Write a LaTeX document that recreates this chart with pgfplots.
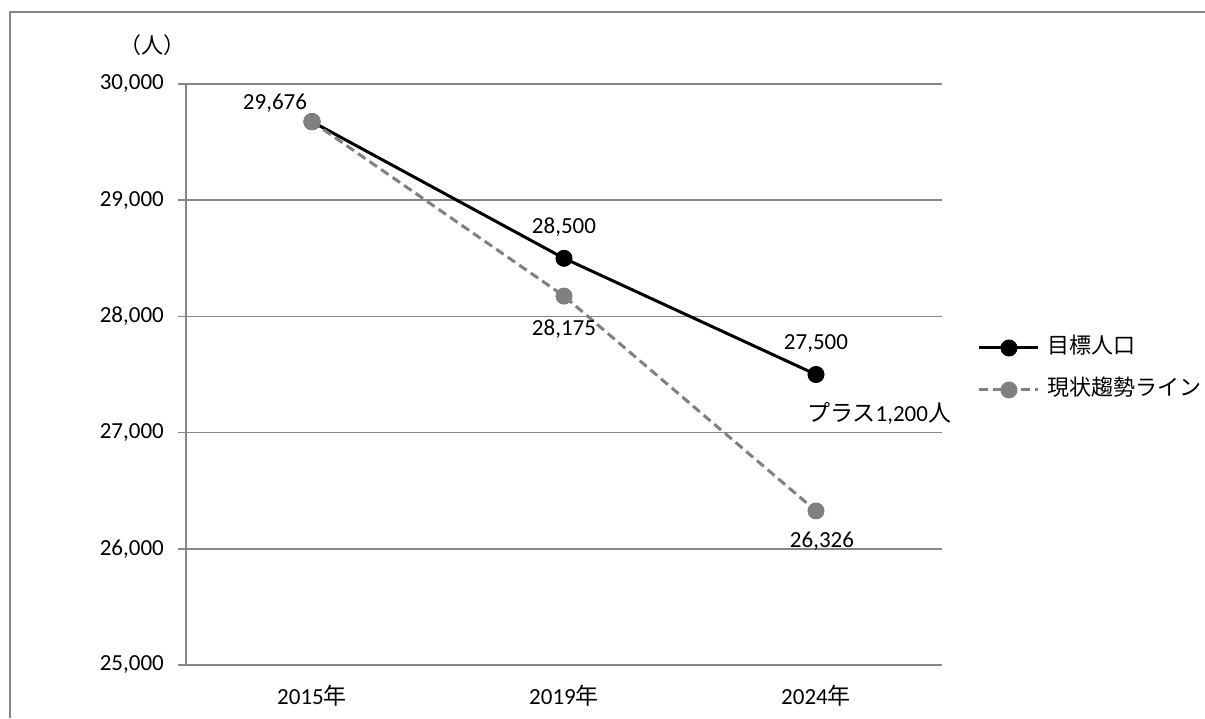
\documentclass[border=0pt]{standalone}
\usepackage{fontspec}
\usepackage{pgfplots}
\pgfplotsset{compat=1.18}
\setmainfont{Carlito}
\newfontfamily\jp{Noto Sans CJK JP}
\definecolor{gridgray}{HTML}{868686}
\definecolor{trendgray}{HTML}{808080}
\newcommand{\fs}{\fontsize{23}{27}\selectfont}
\newcommand{\jfs}{\jp\fontsize{22}{26}\selectfont}

\begin{document}
\begin{tikzpicture}[font=\fs]
\useasboundingbox (0pt,0pt) rectangle (1205pt,718pt);
% outer frame
\draw[gridgray, line width=1.5pt] (10pt,0pt) -- (10pt,706pt) -- (1205pt,706pt);
\node[font=\jfs] at (152pt,673pt) {（人）};
\begin{axis}[
  at={(186pt,53pt)}, anchor=south west,
  scale only axis, width=756pt, height=581pt,
  xmin=0, xmax=3, ymin=25000, ymax=30000,
  ytick={25000,26000,27000,28000,29000,30000},
  scaled y ticks=false,
  xtick={0.5,1.5,2.5},
  xticklabels={2015{\jp 年},2019{\jp 年},2024{\jp 年}},
  x tick style={draw=none},
  extra x ticks={0,1,2,3}, extra x tick labels={},
  extra x tick style={grid=none, major tick length=10pt, tick style={draw=gridgray, line width=1.5pt}},
  y tick style={draw=gridgray, line width=1.5pt},
  major tick length=8pt, tick align=outside,
  ymajorgrids, grid style={gridgray, line width=1.5pt},
  axis x line*=bottom, axis y line*=left,
  x axis line style={draw=gridgray, line width=2.5pt},
  y axis line style={draw=gridgray, line width=1.5pt},
  clip=false,
  /pgf/number format/.cd, fixed, precision=0, 1000 sep={,}, assume math mode=true,
  /pgfplots/.cd,
  yticklabel style={anchor=east, inner sep=0pt, xshift=-14pt},
  xticklabel style={anchor=center, inner sep=0pt, yshift=-23pt},
  legend style={at={(1.0476,0.5095)}, anchor=west, draw=none, fill=none,
    inner sep=0pt, outer sep=0pt, row sep=20pt, column sep=8pt,
    font=\jfs, nodes={inner sep=0pt, text height=17pt, text depth=5pt}},
  legend cell align=left,
  legend image code/.code={\draw[mark repeat=2,mark phase=2,#1] plot coordinates {(0pt,0pt) (29.5pt,0pt) (59pt,0pt)};},
]
% target population
\addplot[black, line width=3pt, mark=*, mark size=8pt, mark options={solid, line width=1pt}]
  coordinates {(0.5,29676) (1.5,28500) (2.5,27500)};
\addlegendentry{目標人口}
% current trend line
\addplot[trendgray, line width=3pt, dash pattern=on 9pt off 5pt, mark=*, mark size=8pt,
  mark options={solid, line width=1pt, fill=trendgray}]
  coordinates {(0.5,29676) (1.5,28175) (2.5,26326)};
\addlegendentry{現状趨勢ライン}

% value labels
\addplot[draw=none, mark=none, forget plot, nodes near coords, point meta=y,
  every node near coord/.append style={anchor=center, inner sep=0pt, xshift=-37pt, yshift=18pt}]
  coordinates {(0.5,29676)};
\addplot[draw=none, mark=none, forget plot, nodes near coords, point meta=y,
  every node near coord/.append style={anchor=center, inner sep=0pt, yshift=31pt}]
  coordinates {(1.5,28500) (2.5,27500)};
\addplot[draw=none, mark=none, forget plot, nodes near coords, point meta=y,
  every node near coord/.append style={anchor=center, inner sep=0pt, yshift=-33pt}]
  coordinates {(1.5,28175)};
\addplot[draw=none, mark=none, forget plot, nodes near coords, point meta=y,
  every node near coord/.append style={anchor=center, inner sep=0pt, xshift=6pt, yshift=-30pt}]
  coordinates {(2.5,26326)};

\node[anchor=west, inner sep=0pt] at (axis cs:2.464,27168) {{\jp プラス}1,200{\jp 人}};
\end{axis}
\end{tikzpicture}
\end{document}
